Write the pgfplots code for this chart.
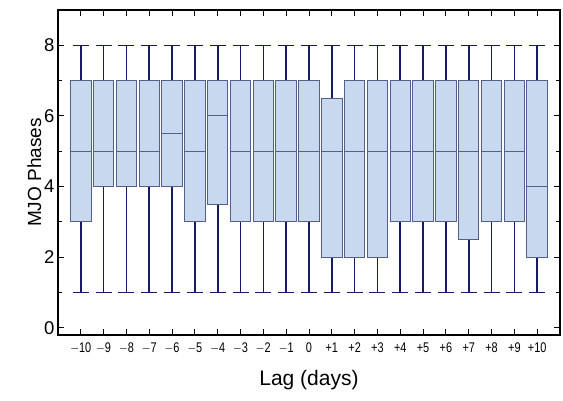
\documentclass[border=0pt]{standalone}
\usepackage{pgfplots}
\pgfplotsset{compat=1.18}
\usepgfplotslibrary{statistics}
\usepackage{fontspec}
\setmainfont{Liberation Sans}
\definecolor{boxfill}{RGB}{200,216,238}
\definecolor{boxedge}{RGB}{85,95,140}
\definecolor{whisk}{RGB}{25,25,105}
\newcommand{\bx}[4]{\addplot+[boxplot prepared={draw position=#1, lower whisker=1, lower quartile=#2, median=#3, upper quartile=#4, upper whisker=8}] coordinates {};}
\begin{document}
\begin{tikzpicture}[x=1pt,y=1pt]
\useasboundingbox (0,0) rectangle (563,400);
\begin{axis}[
  at={(58pt,65pt)}, anchor=south west,
  scale only axis, width=502pt, height=325pt,
  xmin=-11, xmax=11, ymin=-0.2, ymax=9,
  xtick={-10,...,10},
  xticklabels={$-$10,$-$9,$-$8,$-$7,$-$6,$-$5,$-$4,$-$3,$-$2,$-$1,0,+1,+2,+3,+4,+5,+6,+7,+8,+9,+10},
  ytick={0,2,4,6,8}, minor ytick={1,3,5,7,9},
  tick align=inside, major tick length=6pt, minor tick length=4pt,
  xtick style={black, line width=1pt}, ytick style={black, line width=1pt},
  axis line style={line width=1.4pt},
  x tick label style={font=\fontsize{14}{14}\selectfont, xscale=0.78, yshift=-4pt},
  y tick label style={font=\fontsize{18.5}{18.5}\selectfont},
  /pgf/number format/assume math mode=true,
  xlabel={Lag (days)}, ylabel={MJO Phases},
  xlabel style={font=\fontsize{21}{21}\selectfont, yshift=-10pt},
  ylabel style={font=\fontsize{19}{19}\selectfont, yshift=-4pt},
  boxplot/draw direction=y,
  boxplot/box extend=0.9,
  boxplot/whisker extend=0.7,
  boxplot/every box/.style={draw=boxedge, fill=boxfill, line width=1pt},
  boxplot/every median/.style={draw=boxedge, line width=1pt},
  boxplot/every whisker/.style={draw=whisk, line width=1.6pt},
  cycle list={{whisk, mark=none}},
]
\bx{-10}{3}{5}{7}
\bx{-9}{4}{5}{7}
\bx{-8}{4}{5}{7}
\bx{-7}{4}{5}{7}
\bx{-6}{4}{5.5}{7}
\bx{-5}{3}{5}{7}
\bx{-4}{3.5}{6}{7}
\bx{-3}{3}{5}{7}
\bx{-2}{3}{5}{7}
\bx{-1}{3}{5}{7}
\bx{0}{3}{5}{7}
\bx{1}{2}{5}{6.5}
\bx{2}{2}{5}{7}
\bx{3}{2}{5}{7}
\bx{4}{3}{5}{7}
\bx{5}{3}{5}{7}
\bx{6}{3}{5}{7}
\bx{7}{2.5}{5}{7}
\bx{8}{3}{5}{7}
\bx{9}{3}{5}{7}
\bx{10}{2}{4}{7}
\end{axis}
\end{tikzpicture}
\end{document}
